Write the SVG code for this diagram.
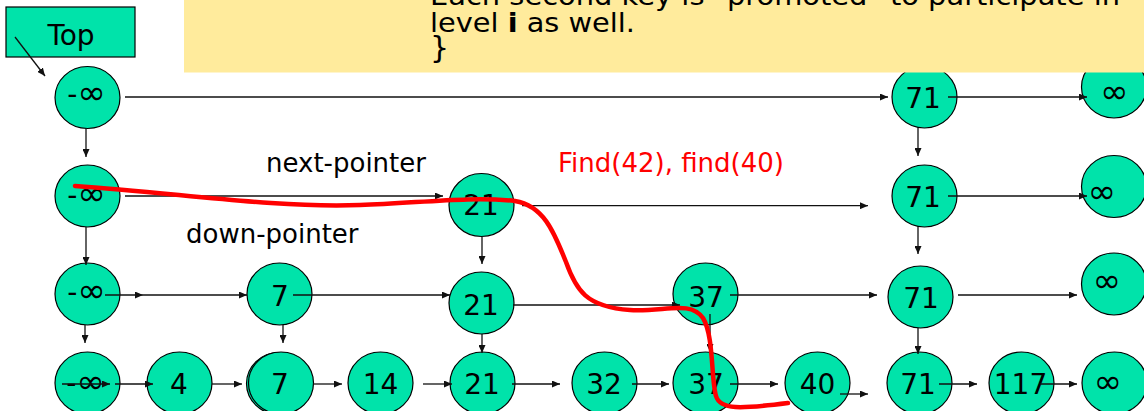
<svg xmlns="http://www.w3.org/2000/svg" width="1144" height="411" viewBox="0 0 1144 411">
<style>
.nd{fill:#00E3AA;stroke:#000;stroke-width:1.2}
.lb{font-family:"DejaVu Sans",Verdana,sans-serif;font-size:28px;fill:#000;text-anchor:middle}
.inf{font-size:34px}
.tx{font-family:"DejaVu Sans",Verdana,sans-serif;font-size:26px;fill:#000}
.cn{fill:none;stroke:#111;stroke-width:1.3;marker-end:url(#ah)}
</style>
<defs>
<marker id="ah" markerUnits="userSpaceOnUse" markerWidth="9" markerHeight="7" refX="8" refY="3.5" orient="auto">
<path d="M0,0 L8,3.5 L0,7 z" fill="#111"/>
</marker>
</defs>
<rect width="1144" height="411" fill="#fff"/>

<g id="top"><rect x="6" y="7" width="129" height="50" class="nd"/><text x="71" y="45" class="lb">Top</text></g>

<g id="n1_ninf"><ellipse cx="87.5" cy="97.5" rx="32.5" ry="31" class="nd"/><text x="86.5" y="104" class="lb">-<tspan class="inf">∞</tspan></text></g>
<g id="n1_71"><ellipse cx="924.5" cy="97" rx="32.5" ry="31" class="nd"/><text x="923" y="108" class="lb">71</text></g>
<g id="n1_inf"><ellipse cx="1114" cy="87" rx="32.5" ry="31" class="nd"/><text x="1114.5" y="103" class="lb inf">∞</text></g>

<g id="n2_ninf"><ellipse cx="87.5" cy="196" rx="32.5" ry="31" class="nd"/><text x="86.5" y="205" class="lb">-<tspan class="inf">∞</tspan></text></g>
<g id="n2_21"><ellipse cx="481.5" cy="205" rx="32.5" ry="31.5" class="nd"/><text x="481" y="215" class="lb">21</text></g>
<g id="n2_71"><ellipse cx="924.5" cy="196" rx="32.5" ry="31" class="nd"/><text x="923" y="207" class="lb">71</text></g>
<g id="n2_inf"><ellipse cx="1114" cy="186.5" rx="32.5" ry="31" class="nd"/><text x="1102" y="203" class="lb inf">∞</text></g>

<g id="n3_ninf"><ellipse cx="87.5" cy="294" rx="32.5" ry="31" class="nd"/><text x="86.5" y="301.5" class="lb">-<tspan class="inf">∞</tspan></text></g>
<g id="n3_7"><ellipse cx="279.5" cy="294" rx="32.5" ry="31" class="nd"/><text x="280" y="306" class="lb">7</text></g>
<g id="n3_21"><ellipse cx="481.5" cy="303" rx="32.5" ry="31" class="nd"/><text x="481" y="315" class="lb">21</text></g>
<g id="n3_37"><ellipse cx="705.5" cy="294" rx="32.5" ry="31" class="nd"/><text x="706" y="307" class="lb">37</text></g>
<g id="n3_71"><ellipse cx="920.5" cy="297" rx="32.5" ry="31" class="nd"/><text x="921" y="308" class="lb">71</text></g>
<g id="n3_inf"><ellipse cx="1114" cy="284" rx="32.5" ry="31" class="nd"/><text x="1107" y="291.5" class="lb inf">∞</text></g>

<g id="n4_ninf"><ellipse cx="87.5" cy="383" rx="32.5" ry="31" class="nd"/><text x="85.5" y="393" class="lb">-<tspan class="inf">∞</tspan></text></g>
<g id="n4_4"><ellipse cx="179.5" cy="383" rx="32.5" ry="31" class="nd"/><text x="179" y="394" class="lb">4</text></g>
<g id="n4_7"><ellipse cx="279" cy="383.5" rx="32.5" ry="31" class="nd"/><ellipse cx="281" cy="383" rx="32.5" ry="31" class="nd"/><text x="280" y="394" class="lb">7</text></g>
<g id="n4_14"><ellipse cx="380.5" cy="383" rx="32.5" ry="31" class="nd"/><text x="380.5" y="394" class="lb">14</text></g>
<g id="n4_21"><ellipse cx="482.5" cy="383" rx="32.5" ry="31" class="nd"/><text x="482" y="394" class="lb">21</text></g>
<g id="n4_32"><ellipse cx="604.5" cy="383" rx="32.5" ry="31" class="nd"/><text x="604" y="394" class="lb">32</text></g>
<g id="n4_37"><ellipse cx="705.5" cy="383" rx="32.5" ry="31" class="nd"/><text x="706" y="394" class="lb">37</text></g>
<g id="n4_40"><ellipse cx="817.5" cy="383" rx="32.5" ry="31" class="nd"/><text x="817.5" y="394" class="lb">40</text></g>
<g id="n4_71"><ellipse cx="919.5" cy="383" rx="32.5" ry="31" class="nd"/><text x="918" y="394" class="lb">71</text></g>
<g id="n4_117"><ellipse cx="1021.5" cy="383" rx="32.5" ry="31" class="nd"/><text x="1020.5" y="394" class="lb">117</text></g>
<g id="n4_inf"><ellipse cx="1114.5" cy="383" rx="32.5" ry="31" class="nd"/><text x="1108" y="393" class="lb inf">∞</text></g>

<g id="connectors">
<path class="cn" d="M15,37 L45,76"/>
<path class="cn" d="M125,97 L888,97"/>
<path class="cn" d="M948,97 L1087,97"/>
<path class="cn" d="M125,196 L443,196"/>
<path class="cn" d="M522,205.7 L868,205.7"/>
<path class="cn" d="M948,196 L1087,196"/>
<path class="cn" d="M105,295 L143,295"/>
<path class="cn" d="M143,295 L247,295"/>
<path class="cn" d="M293,295 L450,295"/>
<path class="cn" d="M513,305 L680,305"/>
<path class="cn" d="M730,295 L877,295"/>
<path class="cn" d="M958,295 L1077,295"/>
<path class="cn" d="M62,384 L110,384"/>
<path class="cn" d="M115,384 L153,384"/>
<path class="cn" d="M212,384 L242,384"/>
<path class="cn" d="M313,384 L342,384"/>
<path class="cn" d="M423,384 L452,384"/>
<path class="cn" d="M512,384 L560,384"/>
<path class="cn" d="M632,384 L669,384"/>
<path class="cn" d="M730,384 L778,384"/>
<path class="cn" d="M840,394 L868,394"/>
<path class="cn" d="M939,384 L977,384"/>
<path class="cn" d="M1040,384 L1077,384"/>
<path class="cn" d="M86,128 L86,157"/>
<path class="cn" d="M918,128 L918,156"/>
<path class="cn" d="M86,227 L86,265"/>
<path class="cn" d="M482,237 L482,264"/>
<path class="cn" d="M918,227 L918,254"/>
<path class="cn" d="M85,325 L85,343"/>
<path class="cn" d="M283,325 L283,343"/>
<path class="cn" d="M482,334 L482,353"/>
<path class="cn" d="M710,314 L710,352"/>
<path class="cn" d="M918,328 L918,354"/>
</g>

<rect x="184" y="0" width="960" height="72.5" fill="#FFEB9C"/>
<g font-family="'DejaVu Sans',Verdana,sans-serif" font-size="27" fill="#000">
<text x="430" y="5" textLength="690" lengthAdjust="spacingAndGlyphs">Each second key is "promoted" to participate in</text>
<text x="430" y="31.5" textLength="205" lengthAdjust="spacingAndGlyphs">level <tspan font-weight="bold">i</tspan> as well.</text>
<text x="430" y="58" font-size="30">}</text>
</g>

<text x="266" y="172" class="tx">next-pointer</text>
<text x="186" y="243" class="tx">down-pointer</text>
<text x="558" y="172" class="tx" fill="#FF0000" style="fill:#FF0000">Find(42), find(40)</text>

<path d="M75,186 C180,193 270,208 360,205 C420,203 470,196 515,201 C545,206 555,235 566,262 C576,290 586,307 630,310 C665,312 690,300 703,318 C714,336 711,380 716,396 C720,410 740,409 788,403" fill="none" stroke="#FF0000" stroke-width="4.5" stroke-linecap="round"/>
</svg>
